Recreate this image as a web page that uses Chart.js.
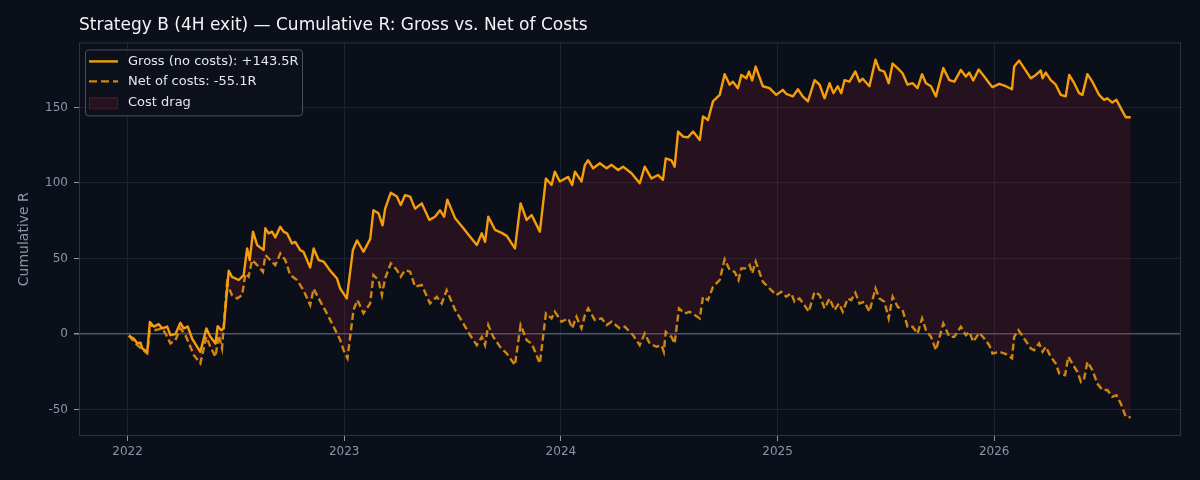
<!DOCTYPE html>
<html>
<head>
<meta charset="utf-8">
<title>Strategy B cumulative R</title>
<script src="https://cdn.jsdelivr.net/npm/chart.js@4.4.1/dist/chart.umd.min.js"></script>
<style>
  html, body { margin: 0; padding: 0; background: #0b0f19; }
  #wrap { width: 1200px; height: 480px; }
</style>
</head>
<body>
<div id="wrap"><canvas id="cumChart" width="1200" height="480"></canvas></div>
<script>
// decimal years
const grossYears = [2022.006, 2022.029, 2022.045, 2022.060, 2022.068, 2022.091, 2022.103, 2022.121, 2022.144, 2022.160,
  2022.183, 2022.198, 2022.221, 2022.244, 2022.259, 2022.278, 2022.298, 2022.336, 2022.364, 2022.382,
  2022.406, 2022.416, 2022.432, 2022.444, 2022.467, 2022.482, 2022.498, 2022.513, 2022.536, 2022.552,
  2022.564, 2022.579, 2022.598, 2022.628, 2022.636, 2022.651, 2022.667, 2022.682, 2022.705, 2022.720,
  2022.736, 2022.759, 2022.774, 2022.797, 2022.812, 2022.843, 2022.859, 2022.882, 2022.905, 2022.935,
  2022.966, 2022.982, 2023.012, 2023.040, 2023.059, 2023.089, 2023.120, 2023.135, 2023.158, 2023.177,
  2023.189, 2023.215, 2023.243, 2023.261, 2023.281, 2023.304, 2023.327, 2023.358, 2023.393, 2023.419,
  2023.442, 2023.461, 2023.476, 2023.512, 2023.550, 2023.581, 2023.612, 2023.635, 2023.650, 2023.665,
  2023.696, 2023.727, 2023.750, 2023.788, 2023.814, 2023.842, 2023.865, 2023.903, 2023.931, 2023.957,
  2023.972, 2023.995, 2024.034, 2024.052, 2024.065, 2024.095, 2024.111, 2024.126, 2024.149, 2024.180,
  2024.211, 2024.234, 2024.264, 2024.287, 2024.326, 2024.364, 2024.387, 2024.418, 2024.448, 2024.471,
  2024.484, 2024.510, 2024.525, 2024.541, 2024.564, 2024.587, 2024.610, 2024.641, 2024.656, 2024.679,
  2024.702, 2024.733, 2024.756, 2024.779, 2024.794, 2024.817, 2024.833, 2024.856, 2024.868, 2024.883,
  2024.899, 2024.932, 2024.963, 2024.994, 2025.024, 2025.040, 2025.071, 2025.094, 2025.116, 2025.140,
  2025.171, 2025.194, 2025.217, 2025.240, 2025.258, 2025.278, 2025.294, 2025.309, 2025.332, 2025.359,
  2025.378, 2025.393, 2025.424, 2025.452, 2025.470, 2025.493, 2025.513, 2025.531, 2025.554, 2025.577,
  2025.600, 2025.623, 2025.646, 2025.667, 2025.685, 2025.708, 2025.731, 2025.765, 2025.793, 2025.816,
  2025.846, 2025.869, 2025.885, 2025.903, 2025.928, 2025.954, 2025.977, 2025.992, 2026.023, 2026.054,
  2026.082, 2026.092, 2026.115, 2026.138, 2026.169, 2026.192, 2026.215, 2026.223, 2026.238, 2026.261,
  2026.284, 2026.307, 2026.330, 2026.346, 2026.369, 2026.392, 2026.407, 2026.430, 2026.453, 2026.484,
  2026.507, 2026.522, 2026.545, 2026.564, 2026.584, 2026.607, 2026.630];

const grossR = [-1, -3, -6, -5.7, -9.5, -11.7, 8, 5, 6.6, 3.8,
  5, -0.7, 0, 7.5, 3.8, 5, -2.9, -11.7, 3.8, -1.8,
  -6.2, 5.3, 2.6, 3.8, 41.9, 37.9, 36.8, 35.8, 39, 56.7,
  49, 67.8, 59, 55.6, 70, 66.7, 67.8, 64, 71, 67.8,
  66.7, 60, 61, 55.6, 54.5, 44, 56.7, 49, 48, 42,
  37, 30, 23.6, 55.6, 62, 54.5, 63, 82, 80, 72,
  83, 93.6, 91, 85.4, 92, 91, 83, 86.5, 75.5, 77.7,
  82, 77.7, 89, 76.6, 70, 64.4, 59, 66.7, 61, 77.7,
  69, 67, 65, 56.7, 86.5, 75.5, 78.8, 67.8, 103, 98.7,
  107.5, 101, 104, 98.7, 107.5, 101, 112, 115, 109.7, 113,
  109.7, 112, 108.6, 110.8, 106.4, 99.8, 110.8, 103, 105.3, 102,
  116.3, 115, 110.8, 134, 130.7, 130.2, 134, 128.5, 144, 141.7,
  154, 158.3, 172, 165, 167, 162.7, 171.5, 169.3, 173.7, 167.8,
  177, 164, 162.7, 158.3, 161.6, 159, 157.3, 162, 157.3, 154,
  168, 165, 156, 166, 159.4, 164, 159.4, 168, 167, 173.8,
  167, 169, 164, 181.5, 174.8, 173.7, 166, 179, 176, 172.6,
  165, 166, 162.7, 172, 166, 164, 157.3, 176, 168, 167,
  174.8, 170.4, 173, 167.8, 175, 170.4, 166, 163.4, 165.6, 164,
  162, 177, 181, 176, 169.3, 171.5, 174.4, 169.3, 173, 168,
  165, 158.3, 157.3, 171.5, 166, 159.4, 158.3, 172, 167, 158.3,
  155, 156, 153.2, 155, 149.5, 143.5, 143.5];

const netYears = [2022.006, 2022.045, 2022.091, 2022.106, 2022.129, 2022.160, 2022.175, 2022.198, 2022.221, 2022.244,
  2022.267, 2022.290, 2022.306, 2022.336, 2022.364, 2022.382, 2022.406, 2022.421, 2022.436, 2022.459,
  2022.482, 2022.506, 2022.529, 2022.544, 2022.559, 2022.575, 2022.598, 2022.625, 2022.636, 2022.659,
  2022.682, 2022.705, 2022.728, 2022.751, 2022.782, 2022.812, 2022.843, 2022.859, 2022.882, 2022.920,
  2022.951, 2022.982, 2022.997, 2023.015, 2023.043, 2023.061, 2023.089, 2023.120, 2023.135, 2023.158,
  2023.174, 2023.189, 2023.215, 2023.243, 2023.261, 2023.281, 2023.304, 2023.327, 2023.358, 2023.396,
  2023.427, 2023.450, 2023.473, 2023.512, 2023.550, 2023.581, 2023.612, 2023.635, 2023.650, 2023.665,
  2023.688, 2023.719, 2023.750, 2023.788, 2023.814, 2023.842, 2023.865, 2023.903, 2023.931, 2023.957,
  2023.972, 2024.003, 2024.034, 2024.052, 2024.072, 2024.095, 2024.111, 2024.126, 2024.157, 2024.188,
  2024.211, 2024.234, 2024.272, 2024.295, 2024.333, 2024.364, 2024.387, 2024.410, 2024.441, 2024.464,
  2024.475, 2024.484, 2024.510, 2024.525, 2024.545, 2024.571, 2024.594, 2024.618, 2024.641, 2024.656,
  2024.679, 2024.702, 2024.733, 2024.756, 2024.779, 2024.802, 2024.820, 2024.833, 2024.856, 2024.871,
  2024.883, 2024.899, 2024.932, 2024.963, 2024.994, 2025.017, 2025.040, 2025.063, 2025.078, 2025.101,
  2025.124, 2025.144, 2025.171, 2025.194, 2025.217, 2025.240, 2025.263, 2025.283, 2025.301, 2025.324,
  2025.340, 2025.359, 2025.378, 2025.401, 2025.424, 2025.452, 2025.470, 2025.493, 2025.513, 2025.531,
  2025.554, 2025.577, 2025.600, 2025.623, 2025.646, 2025.667, 2025.685, 2025.708, 2025.731, 2025.765,
  2025.793, 2025.816, 2025.846, 2025.869, 2025.885, 2025.903, 2025.931, 2025.954, 2025.977, 2025.992,
  2026.023, 2026.054, 2026.082, 2026.092, 2026.112, 2026.138, 2026.169, 2026.184, 2026.207, 2026.223,
  2026.238, 2026.261, 2026.284, 2026.300, 2026.327, 2026.342, 2026.369, 2026.384, 2026.400, 2026.415,
  2026.430, 2026.453, 2026.476, 2026.499, 2026.522, 2026.545, 2026.564, 2026.584, 2026.607, 2026.630];

const netR = [-1, -7.3, -12.8, 7, 2.6, 3.8, 0.4, -6.2, -4, 3.8,
  -0.7, -8.4, -13.9, -19.4, -1.8, -8.4, -15, -0.7, -9.5, 33.6,
  25.8, 23.6, 25.8, 40, 38, 49, 45.7, 41.2, 52.3, 49,
  45.7, 53.4, 49, 39, 35.8, 29, 19.2, 30, 23.6, 13.7,
  4.9, -4, -10.6, -16, 16, 22.5, 13.7, 20.3, 39, 35.8,
  25.8, 36.9, 46.8, 42.4, 38, 42.4, 41.3, 31.3, 32.5, 20.3,
  24.7, 20.3, 29, 16, 7, -0.7, -7.3, -1.8, -7.3, 6,
  -1.8, -8.4, -12.8, -20.5, 6, -4, -6.2, -19.4, 13.7, 10.4,
  14.8, 8.2, 10.4, 3.8, 11.5, 3.8, 12.6, 17, 9.3, 10.4,
  6, 8.2, 3.8, 4.9, -0.7, -7.3, 0.4, -6.2, -8.4, -7.3,
  -11.7, 1.5, -1.8, -6.2, 17, 13.7, 14.8, 12.6, 10.4, 24.7,
  22.5, 31.3, 35.8, 49.5, 42.4, 41.2, 35.8, 43.5, 43.5, 45.7,
  40.2, 48, 34.7, 30.2, 25.8, 28, 24.7, 27, 21.4, 23.6,
  19.2, 14.8, 28, 25.8, 17, 23.6, 15.9, 20.3, 14.8, 23.6,
  22.5, 27.4, 20.3, 21.4, 14.8, 30.2, 23.6, 21.4, 10.4, 24.7,
  18.1, 15.9, 4.9, 4.9, 0.4, 10.4, 2.6, -1.8, -10.6, 7,
  -1.8, -1.8, 4.9, -0.7, 1.5, -5.1, 0.9, -2.9, -7.3, -12.8,
  -11.7, -13.2, -16, -1.8, 2.6, -2.9, -9.5, -10.6, -6.2, -11.7,
  -8.4, -15, -19.4, -26, -27.2, -15, -21.6, -24.9, -31.6, -29.4,
  -18.3, -23.8, -32.7, -37, -37, -41.5, -40.4, -45.9, -54.7, -55.1];

const yearTicks = [2022, 2023, 2024, 2025, 2026];
const grossLabel = "Gross (no costs): +143.5R";
const netLabel = "Net of costs: -55.1R";
const dragLabel = "Cost drag";

const GROSS = "#f59e0b";
const NET = "#d08612";
const DRAG = "rgba(190, 40, 60, 0.15)";
const FONT = "'DejaVu Sans', 'Liberation Sans', sans-serif";

const toPoints = (xs, ys) => xs.map((x, i) => ({ x: x, y: ys[i] }));

// axes frame and the in-plot legend (matplotlib style)
const frameAndLegend = {
  id: "frameAndLegend",
  afterDraw(chart) {
    const { ctx, chartArea: a } = chart;
    ctx.save();
    ctx.strokeStyle = "#2b3240";
    ctx.lineWidth = 1;
    ctx.strokeRect(a.left + 0.5, a.top + 0.5, a.right - a.left - 1, a.bottom - a.top - 1);

    const bx = a.left + 6, by = a.top + 7, bw = 217, bh = 66;
    ctx.beginPath();
    ctx.roundRect(bx + 0.5, by + 0.5, bw, bh, 3);
    ctx.fillStyle = "rgba(13, 17, 27, 0.85)";
    ctx.fill();
    ctx.strokeStyle = "#4a505c";
    ctx.stroke();

    const rows = [by + 12, by + 32, by + 53];
    ctx.lineWidth = 2.4;
    ctx.strokeStyle = GROSS;
    ctx.beginPath();
    ctx.moveTo(bx + 4, rows[0]);
    ctx.lineTo(bx + 33, rows[0]);
    ctx.stroke();

    ctx.strokeStyle = NET;
    ctx.setLineDash([8, 4]);
    ctx.beginPath();
    ctx.moveTo(bx + 4, rows[1]);
    ctx.lineTo(bx + 33, rows[1]);
    ctx.stroke();
    ctx.setLineDash([]);

    ctx.fillStyle = DRAG;
    ctx.fillRect(bx + 4, rows[2] - 5, 28, 11);
    ctx.strokeStyle = "rgba(110, 35, 50, 0.6)";
    ctx.lineWidth = 1;
    ctx.strokeRect(bx + 4.5, rows[2] - 4.5, 28, 11);

    ctx.fillStyle = "#e5e7eb";
    ctx.font = "13px " + FONT;
    ctx.textBaseline = "middle";
    ctx.fillText(grossLabel, bx + 43, rows[0]);
    ctx.fillText(netLabel, bx + 43, rows[1]);
    ctx.fillText(dragLabel, bx + 43, rows[2]);
    ctx.restore();
  }
};

new Chart(document.getElementById("cumChart"), {
  type: "line",
  data: {
    datasets: [{
      label: grossLabel,
      data: toPoints(grossYears, grossR),
      borderColor: GROSS,
      borderWidth: 2.4,
      borderJoinStyle: "round",
      pointRadius: 0,
      fill: false,
      tension: 0
    }, {
      label: netLabel,
      data: toPoints(netYears, netR),
      borderColor: NET,
      borderWidth: 2.4,
      borderDash: [7, 3.5],
      pointRadius: 0,
      fill: { target: 0 },
      backgroundColor: DRAG,
      tension: 0
    }]
  },
  options: {
    responsive: false,
    animation: false,
    layout: { padding: { left: 0, right: 19, top: 0, bottom: 0 } },
    plugins: {
      legend: { display: false },
      tooltip: { enabled: false },
      title: {
        display: true,
        text: "Strategy B (4H exit) \u2014 Cumulative R: Gross vs. Net of Costs",
        align: "start",
        fullSize: false,
        color: "#f3f4f6",
        font: { family: FONT, size: 17, weight: "normal" },
        padding: { top: 15, bottom: 7 }
      }
    },
    scales: {
      x: {
        type: "linear",
        min: 2021.776,
        max: 2026.862,
        afterBuildTicks: (scale) => { scale.ticks = yearTicks.map(v => ({ value: v })); },
        afterFit: (scale) => { scale.height = 44; },
        ticks: {
          color: "#8b95a5",
          font: { family: FONT, size: 12 },
          padding: 4,
          maxRotation: 0,
          callback: (v) => String(v)
        },
        grid: { color: "#1c2230", tickColor: "#8b95a5", tickLength: 5 },
        border: { display: false }
      },
      y: {
        min: -67.4,
        max: 193,
        afterFit: (scale) => { scale.width = 79; },
        ticks: {
          stepSize: 50,
          includeBounds: false,
          color: "#8b95a5",
          font: { family: FONT, size: 12 },
          padding: 6
        },
        grid: {
          color: (c) => (c.tick && c.tick.value === 0 ? "#4a5568" : "#1c2230"),
          lineWidth: (c) => (c.tick && c.tick.value === 0 ? 1.5 : 1),
          tickColor: "#8b95a5",
          tickLength: 5
        },
        border: { display: false },
        title: {
          display: true,
          text: "Cumulative R",
          color: "#8b95a5",
          font: { family: FONT, size: 14 },
          padding: { top: 16, bottom: 0 }
        }
      }
    }
  },
  plugins: [frameAndLegend]
});
</script>
</body>
</html>
